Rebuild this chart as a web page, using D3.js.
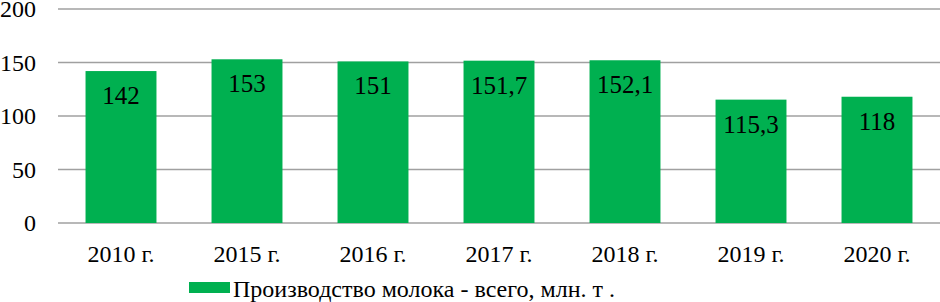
<!DOCTYPE html>
<html>
<head>
<meta charset="utf-8">
<script src="https://cdn.jsdelivr.net/npm/d3@7"></script>
<style>
  body { margin: 0; background: #fff; font-family: "Liberation Serif", serif; }
  text { font-family: "Liberation Serif", serif; }
</style>
</head>
<body>
<div id="chart"></div>
<script>
const years = ["2010 г.", "2015 г.", "2016 г.", "2017 г.", "2018 г.", "2019 г.", "2020 г."];
const milk = [142, 153, 151, 151.7, 152.1, 115.3, 118];
const yTicks = [0, 50, 100, 150, 200];
const seriesName = "Производство молока - всего, млн. т .";

const width = 940, height = 302,
      margin = { top: 9, right: 0, bottom: 79, left: 58 },
      green = "#00b050", grid = "#a0a0a0",
      serif = "Liberation Serif, serif";

const svg = d3.select("#chart").append("svg")
    .attr("width", width)
    .attr("height", height)
    .attr("font-family", serif);

const x = d3.scaleBand()
    .domain(years)
    .range([margin.left, width - margin.right])
    .paddingInner(0.437)
    .paddingOuter(0.2185);

const y = d3.scaleLinear()
    .domain([0, 200])
    .range([height - margin.bottom, margin.top]);

// gridlines
svg.append("g")
  .selectAll("line")
  .data(yTicks)
  .join("line")
    .attr("x1", margin.left)
    .attr("x2", width - margin.right)
    .attr("y1", d => y(d))
    .attr("y2", d => y(d))
    .attr("stroke", grid)
    .attr("stroke-width", 1.5);

// y tick labels
svg.selectAll("text.ytick")
  .data(yTicks)
  .join("text")
    .attr("class", "ytick")
    .attr("font-family", serif)
    .attr("x", 36)
    .attr("y", d => y(d))
    .attr("dy", "0.35em")
    .attr("text-anchor", "end")
    .attr("font-size", 24)
    .text(d => d);

// bars
svg.append("g")
  .selectAll("rect")
  .data(milk)
  .join("rect")
    .attr("x", (d, i) => x(years[i]))
    .attr("y", d => y(d))
    .attr("width", x.bandwidth())
    .attr("height", d => y(0) - y(d))
    .attr("fill", green);

// value labels
const fmt = v => String(v).replace(".", ",");
svg.selectAll("text.value")
  .data(milk)
  .join("text")
    .attr("class", "value")
    .attr("font-family", serif)
    .attr("x", (d, i) => x(years[i]) + x.bandwidth() / 2)
    .attr("y", d => y(d) + 33)
    .attr("text-anchor", "middle")
    .attr("font-size", 25)
    .text(fmt);

// x labels
svg.selectAll("text.xlabel")
  .data(years)
  .join("text")
    .attr("class", "xlabel")
    .attr("font-family", serif)
    .attr("x", d => x(d) + x.bandwidth() / 2)
    .attr("y", 262)
    .attr("text-anchor", "middle")
    .attr("font-size", 24)
    .text(d => d);

// legend
svg.append("rect")
    .attr("x", 189)
    .attr("y", 282)
    .attr("width", 41)
    .attr("height", 11)
    .attr("fill", green);
svg.append("text")
    .attr("font-family", serif)
    .attr("x", 233)
    .attr("y", 297)
    .attr("font-size", 24)
    .text(seriesName);
</script>
</body>
</html>
